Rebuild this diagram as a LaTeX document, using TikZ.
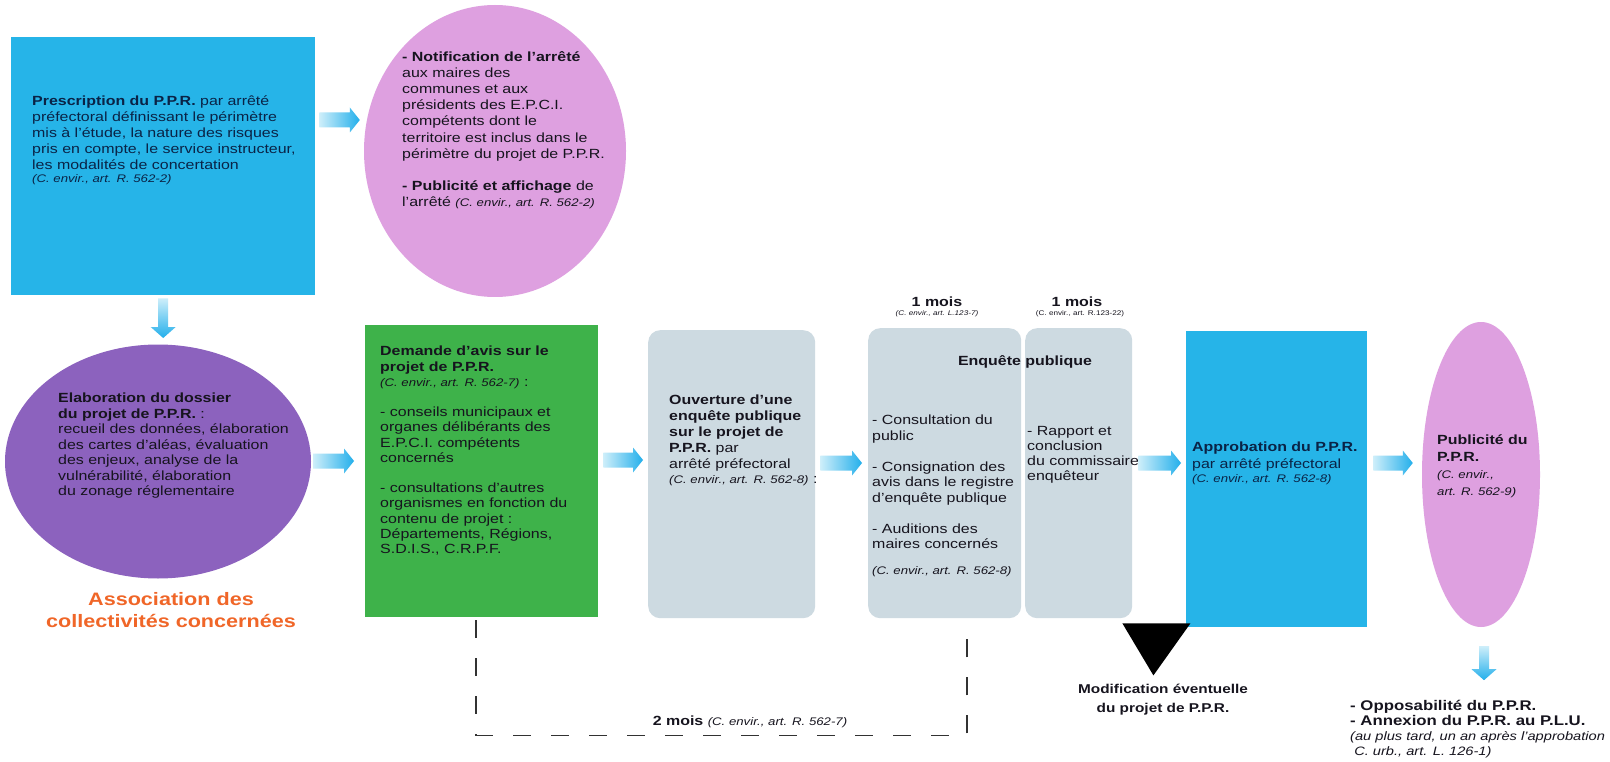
\documentclass[tikz,border=0pt]{standalone}
\usepackage{fontspec}
\setmainfont{Liberation Sans}[FakeStretch=1.2]
\usetikzlibrary{shapes.geometric,calc}
\definecolor{cyanbox}{RGB}{38,180,232}
\definecolor{pinkell}{RGB}{222,160,224}
\definecolor{purpell}{RGB}{140,98,190}
\definecolor{greenbox}{RGB}{62,178,74}
\definecolor{greybox}{RGB}{205,218,225}
\definecolor{orangetxt}{RGB}{240,102,40}
\definecolor{arrowcyan}{RGB}{35,175,235}
\definecolor{arrowlight}{RGB}{205,238,250}
\definecolor{txtdark}{RGB}{22,20,30}
\definecolor{txtnavy}{RGB}{10,35,70}
\definecolor{dashcol}{RGB}{50,50,50}
\newcommand{\bodyfs}{\fontsize{13.3}{15.8}\selectfont}
\newcommand{\reff}[1]{{\fontsize{11}{13}\selectfont\itshape #1}}
\newcommand{\harrow}[2]{\shade[left color=arrowlight,right color=arrowcyan] let \p1=(#1),\p2=(#2) in (\x1,\y1+7.5pt) -- (\x2-10pt,\y1+7.5pt) -- (\x2-10pt,\y1+12.5pt) -- (\x2,\y1) -- (\x2-10pt,\y1-12.5pt) -- (\x2-10pt,\y1-7.5pt) -- (\x1,\y1-7.5pt) -- cycle;}
\newcommand{\varrow}[2]{\shade[top color=arrowlight,bottom color=arrowcyan] let \p1=(#1),\p2=(#2) in (\x1-5pt,\y1) -- (\x1-5pt,\y2+11pt) -- (\x1-12.5pt,\y2+11pt) -- (\x1,\y2) -- (\x1+12.5pt,\y2+11pt) -- (\x1+5pt,\y2+11pt) -- (\x1+5pt,\y1) -- cycle;}
\begin{document}
\begin{tikzpicture}[x=1pt,y=-1pt,
  shapebox/.style={rectangle, inner sep=0, anchor=north west, draw=none},
  txt/.style={inner sep=0, align=left, anchor=north west, text=txtdark, font=\bodyfs},
  lbl/.style={inner sep=0, align=center, text=txtdark},
  dsh/.style={draw=dashcol, line width=1.4pt, dash pattern=on 18pt off 20pt}
]
\useasboundingbox (0,0) rectangle (1610,762);
\fill[white] (0,0) rectangle (1610,762);

% shapes
\node[shapebox, fill=cyanbox, minimum width=304pt, minimum height=258pt] (presc) at (11,37) {};
\node[ellipse, fill=pinkell, inner sep=0, minimum width=262pt, minimum height=292pt] (notif) at (495,151) {};
\node[ellipse, fill=purpell, inner sep=0, minimum width=306pt, minimum height=234pt] (elab) at (158,461.5) {};
\node[shapebox, fill=greenbox, minimum width=233pt, minimum height=292pt] (green) at (365,325) {};
\node[shapebox, fill=greybox, rounded corners=12pt, minimum width=167pt, minimum height=288pt] (ouv) at (648,330) {};
\node[shapebox, fill=greybox, rounded corners=12pt, minimum width=153pt, minimum height=290pt] (enq1) at (868,328) {};
\node[shapebox, fill=greybox, rounded corners=12pt, minimum width=107pt, minimum height=290pt] (enq2) at (1025,328) {};
\node[shapebox, fill=cyanbox, minimum width=181pt, minimum height=296pt] (appro) at (1186,331) {};
\node[ellipse, fill=pinkell, inner sep=0, minimum width=118pt, minimum height=305pt] (publ) at (1481,474.5) {};

% texts
\node[txt, text=txtnavy] (presc-t) at (32,96) {\textbf{Prescription du P.P.R.} par arrêté\\
préfectoral définissant le périmètre\\
mis à l’étude, la nature des risques\\
pris en compte, le service instructeur,\\
les modalités de concertation\\[-2pt]
\reff{(C. envir., art. R. 562-2)}};

\node[txt, font=\fontsize{13.3}{16.2}\selectfont] (notif-t) at (402,51) {\textbf{- Notification de l’arrêté}\\
aux maires des\\
communes et aux\\
présidents des E.P.C.I.\\
compétents dont le\\
territoire est inclus dans le\\
périmètre du projet de P.P.R.\\[16.2pt]
\textbf{- Publicité et affichage} de\\
l’arrêté \reff{(C. envir., art. R. 562-2)}};

\node[txt, font=\fontsize{13.3}{15.5}\selectfont] (elab-t) at (58,393) {\textbf{Elaboration du dossier}\\
\textbf{du projet de P.P.R.} :\\
recueil des données, élaboration\\
des cartes d’aléas, évaluation\\
des enjeux, analyse de la\\
vulnérabilité, élaboration\\
du zonage réglementaire};

\node[lbl, text=orangetxt, font=\bfseries\fontsize{18}{22}\selectfont] (assoc) at (171,610) {Association des\\collectivités concernées};

\node[txt, font=\fontsize{13.3}{15.2}\selectfont] (green-t) at (380,346) {\textbf{Demande d’avis sur le}\\
\textbf{projet de P.P.R.}\\
\reff{(C. envir., art. R. 562-7)} :\\[15.2pt]
- conseils municipaux et\\
organes délibérants des\\
E.P.C.I. compétents\\
concernés\\[15.2pt]
- consultations d’autres\\
organismes en fonction du\\
contenu de projet :\\
Départements, Régions,\\
S.D.I.S., C.R.P.F.};

\node[txt, font=\fontsize{13.3}{16}\selectfont] (ouv-t) at (669,395) {\textbf{Ouverture d’une}\\
\textbf{enquête publique}\\
\textbf{sur le projet de}\\
\textbf{P.P.R.} par\\
arrêté préfectoral\\[-1pt]
\reff{(C. envir., art. R. 562-8)} :};

\node[lbl, font=\bfseries\bodyfs] (m1) at (937,302) {1 mois};
\node[lbl, font=\fontsize{6.8}{8}\selectfont\itshape] (m1r) at (937,314) {(C. envir., art. L.123-7)};
\node[lbl, font=\bfseries\bodyfs] (m2) at (1077,302) {1 mois};
\node[lbl, font=\fontsize{6.8}{8}\selectfont] (m2r) at (1080,314) {(C. envir., art. R.123-22)};

\node[lbl, font=\bfseries\bodyfs] (enqt) at (1025,362) {Enquête publique};

\node[txt, font=\fontsize{13.3}{15.5}\selectfont] (enq1-t) at (872,415) {- Consultation du\\
public\\[15.5pt]
- Consignation des\\
avis dans le registre\\
d’enquête publique\\[15.5pt]
- Auditions des\\
maires concernés\\[10pt]
\reff{(C. envir., art. R. 562-8)}};

\node[txt, font=\fontsize{13.3}{15}\selectfont] (enq2-t) at (1027,426) {- Rapport et\\
conclusion\\
du commissaire\\
enquêteur};

\node[txt, text=txtnavy, font=\fontsize{13.3}{16.5}\selectfont] (appro-t) at (1192,442) {\textbf{Approbation du P.P.R.}\\
par arrêté préfectoral\\[-2pt]
\reff{(C. envir., art. R. 562-8)}};

\node[txt, font=\fontsize{13.3}{17}\selectfont] (publ-t) at (1437,435) {\textbf{Publicité du}\\
\textbf{P.P.R.}\\
\reff{(C. envir.,}\\
\reff{art. R. 562-9)}};

% black triangle
\coordinate (t1) at ($(enq2.south east)+(-10,5)$);
\fill[black] (t1) -- ++(68,0) -- ++(-37,52) -- cycle;
\node[lbl, font=\bfseries\fontsize{12.8}{19}\selectfont] (modif) at (1163,700) {Modification éventuelle\\du projet de P.P.R.};

\node[txt, font=\fontsize{14}{15}\selectfont] (oppo) at (1350,700) {\textbf{- Opposabilité du P.P.R.}\\
\textbf{- Annexion du P.P.R. au P.L.U.}\\
{\fontsize{12.2}{14}\selectfont\itshape (au plus tard, un an après l’approbation}\\
{\fontsize{12.2}{14}\selectfont\itshape \ C. urb., art. L. 126-1)}};

% dashed bracket
\coordinate (d1) at ($(green.south west)+(111,3)$);
\coordinate (d2) at ($(enq1.south west)+(99,2)$);
\draw[dsh] (d1) -- ++(0,115) -| (d2);
\node[lbl, font=\bodyfs] (deux) at (750,722) {\textbf{2 mois} \reff{(C. envir., art. R. 562-7)}};

% arrows
\coordinate (a1s) at ($(presc.east |- 0,120)+(4,0)$);
\coordinate (a1e) at ($(notif.west |- 0,120)+(-4,0)$);
\harrow{a1s}{a1e}
\coordinate (b1s) at ($(presc.south)+(0,3)$);
\coordinate (b1e) at ($(elab.north |- 0,338)$);
\varrow{b1s}{b1e}
\coordinate (c1s) at ($(elab.east |- 0,461)+(2,0)$);
\coordinate (c1e) at ($(green.west |- 0,461)+(-11,0)$);
\harrow{c1s}{c1e}
\coordinate (d3s) at ($(green.east |- 0,460)+(5,0)$);
\coordinate (d3e) at ($(ouv.west |- 0,460)+(-5,0)$);
\harrow{d3s}{d3e}
\coordinate (e1s) at ($(ouv.east |- 0,463)+(5,0)$);
\coordinate (e1e) at ($(enq1.west |- 0,463)+(-6,0)$);
\harrow{e1s}{e1e}
\coordinate (f1s) at ($(enq2.east |- 0,463)+(6,0)$);
\coordinate (f1e) at ($(appro.west |- 0,463)+(-5,0)$);
\harrow{f1s}{f1e}
\coordinate (g1s) at ($(appro.east |- 0,463)+(6,0)$);
\coordinate (g1e) at ($(publ.west |- 0,463)+(-9,0)$);
\harrow{g1s}{g1e}
\coordinate (h1s) at ($(publ.south)+(3,19)$);
\coordinate (h1e) at ($(publ.south)+(3,53)$);
\varrow{h1s}{h1e}
\end{tikzpicture}
\end{document}
